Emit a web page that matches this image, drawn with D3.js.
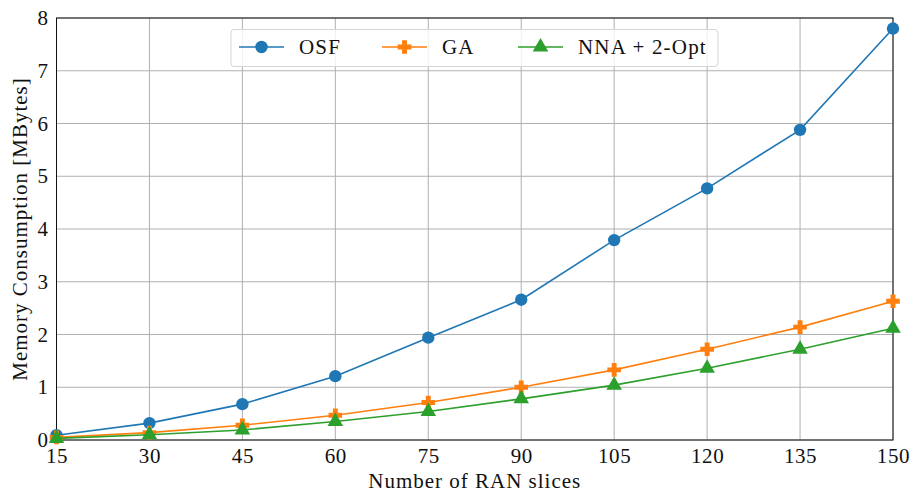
<!DOCTYPE html>
<html>
<head>
<meta charset="utf-8">
<script src="https://cdn.jsdelivr.net/npm/d3@7"></script>
<style>
  html, body { margin: 0; padding: 0; background: #fff; }
  svg { display: block; }
  text { font-family: "Liberation Serif", "DejaVu Serif", serif; fill: #111; }
</style>
</head>
<body>
<svg id="chart" width="911" height="492"></svg>
<script>
// Number of RAN slices
const slices = [15, 30, 45, 60, 75, 90, 105, 120, 135, 150];
// Memory consumption in MBytes per method
const osf = [0.09, 0.32, 0.68, 1.21, 1.94, 2.66, 3.79, 4.77, 5.88, 7.80];
const ga  = [0.05, 0.14, 0.28, 0.47, 0.71, 1.00, 1.33, 1.72, 2.14, 2.63];
const nna = [0.03, 0.10, 0.19, 0.35, 0.54, 0.78, 1.04, 1.36, 1.72, 2.12];
const seriesNames = ["OSF", "GA", "NNA + 2-Opt"];
const seriesColors = ["#1f77b4", "#ff7f0e", "#2ca02c"];
const yTicks = [0, 1, 2, 3, 4, 5, 6, 7, 8];

const series = [
  { name: seriesNames[0], values: osf, color: seriesColors[0], marker: "circle" },
  { name: seriesNames[1], values: ga,  color: seriesColors[1], marker: "plus" },
  { name: seriesNames[2], values: nna, color: seriesColors[2], marker: "triangle" }
];

const svg = d3.select("#chart");
const margin = { left: 56.5, right: 18, top: 18, bottom: 52 };
const W = 911, H = 492;
const x = d3.scaleLinear().domain([15, 150]).range([margin.left, W - margin.right]);
const y = d3.scaleLinear().domain([0, 8]).range([H - margin.bottom, margin.top]);

// grid
const grid = svg.append("g");
grid.selectAll(".gx").data(slices).join("line")
  .attr("x1", d => x(d)).attr("x2", d => x(d))
  .attr("y1", y(0)).attr("y2", y(8))
  .attr("stroke", "#b0b0b0").attr("stroke-width", 1);
grid.selectAll(".gy").data(yTicks).join("line")
  .attr("x1", x(15)).attr("x2", x(150))
  .attr("y1", d => y(d)).attr("y2", d => y(d))
  .attr("stroke", "#b0b0b0").attr("stroke-width", 1);

// axes (labels only, no tick marks)
const xAxis = svg.append("g").attr("transform", `translate(0,${y(0)})`)
  .call(d3.axisBottom(x).tickValues(slices).tickSize(0).tickPadding(8).tickFormat(d3.format("d")));
const yAxis = svg.append("g").attr("transform", `translate(${x(15)},0)`)
  .call(d3.axisLeft(y).tickValues(yTicks).tickSize(0).tickPadding(8).tickFormat(d3.format("d")));
[xAxis, yAxis].forEach(a => {
  a.select(".domain").remove();
  a.selectAll("text").attr("font-size", 21).attr("letter-spacing", "0.6px")
    .attr("font-family", "Liberation Serif").attr("fill", "#111");
});

// frame
svg.append("rect")
  .attr("x", x(15)).attr("y", y(8))
  .attr("width", x(150) - x(15)).attr("height", y(0) - y(8))
  .attr("fill", "none").attr("stroke", "#111").attr("stroke-width", 1);

// axis titles
svg.append("text")
  .attr("x", (x(15) + x(150)) / 2).attr("y", 488)
  .attr("text-anchor", "middle").attr("font-size", 21).attr("letter-spacing", "1px")
  .text("Number of RAN slices");
svg.append("text")
  .attr("transform", `translate(27,${(y(0) + y(8)) / 2}) rotate(-90)`)
  .attr("text-anchor", "middle").attr("font-size", 21).attr("letter-spacing", "1px")
  .text("Memory Consumption [MBytes]");

// marker drawing
const plusPath = (s) => {
  const a = s, b = s * 0.36;
  return `M${-b},${-a}H${b}V${-b}H${a}V${b}H${b}V${a}H${-b}V${b}H${-a}V${-b}H${-b}Z`;
};
function drawMarker(g, kind, color) {
  if (kind === "circle") {
    g.append("circle").attr("r", 6.2).attr("fill", color);
  } else if (kind === "plus") {
    g.append("path").attr("d", plusPath(6.8)).attr("fill", color);
  } else {
    g.append("path").attr("d", d3.symbol().type(d3.symbolTriangle).size(105)()).attr("fill", color);
  }
}

const line = d3.line().x(d => x(d[0])).y(d => y(d[1]));
const plot = svg.append("g");
series.forEach(s => {
  const pts = slices.map((v, i) => [v, s.values[i]]);
  plot.append("path").datum(pts)
    .attr("d", line).attr("fill", "none")
    .attr("stroke", s.color).attr("stroke-width", 1.6);
  pts.forEach(p => {
    const g = plot.append("g").attr("transform", `translate(${x(p[0])},${y(p[1])})`);
    drawMarker(g, s.marker, s.color);
  });
});

// legend
const legend = svg.append("g");
legend.append("rect")
  .attr("x", 231).attr("y", 29.5).attr("width", 487).attr("height", 37).attr("rx", 3)
  .attr("fill", "rgba(255,255,255,0.8)").attr("stroke", "#d6d6d6").attr("stroke-width", 1);
const legendX = [239, 382, 518];
series.forEach((s, i) => {
  const g = legend.append("g").attr("transform", `translate(${legendX[i]},47)`);
  g.append("line").attr("x1", 0).attr("x2", 45).attr("stroke", s.color).attr("stroke-width", 1.6);
  const m = g.append("g").attr("transform", "translate(22.5,0)");
  drawMarker(m, s.marker, s.color);
  g.append("text").attr("x", 60).attr("y", 7).attr("font-size", 21).attr("letter-spacing", "1.2px").text(s.name);
});
</script>
</body>
</html>
